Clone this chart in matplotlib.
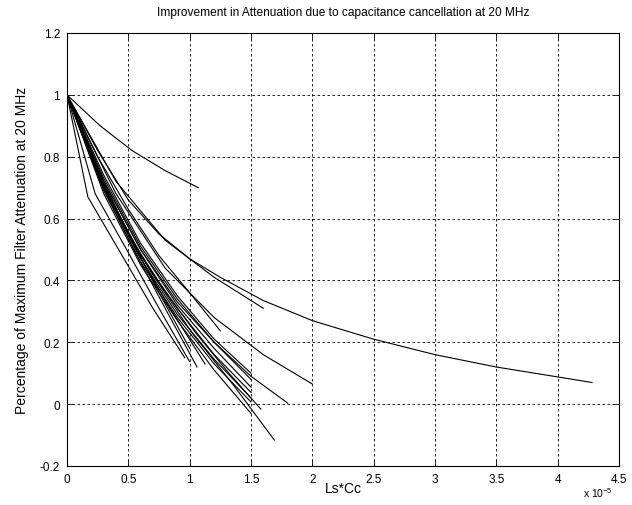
import matplotlib
matplotlib.use("Agg")
import matplotlib.pyplot as plt

plt.rcParams['font.family'] = ['Liberation Sans', 'DejaVu Sans']
plt.rcParams['mathtext.fontset'] = 'custom'
plt.rcParams['mathtext.rm'] = 'Liberation Sans'

# Ls*Cc values (x 1e-5) and normalised attenuation for each run
curves = [
    # top short curve
    ([0, 0.27, 0.53, 0.8, 1.07], [1, 0.9, 0.82, 0.755, 0.70]),
    # long curve
    ([0, 0.25, 0.5, 0.75, 1.0, 1.25, 1.6, 2.0, 2.5, 3.0, 3.5, 4.0, 4.28],
     [1, 0.82, 0.66, 0.55, 0.47, 0.41, 0.335, 0.27, 0.21, 0.16, 0.12, 0.088, 0.07]),
    ([0, 0.4, 0.8, 1.2, 1.6], [1, 0.72, 0.53, 0.41, 0.31]),
    ([0, 0.4, 0.8, 1.2, 1.6, 2.0], [1, 0.68, 0.44, 0.28, 0.16, 0.065]),
    ([0, 0.25, 0.5, 0.75, 1.0, 1.25], [1, 0.8, 0.63, 0.48, 0.36, 0.237]),
    ([0, 0.3, 0.6, 0.9, 1.2, 1.5, 1.8], [1, 0.72, 0.5, 0.33, 0.2, 0.09, 0.003]),
    ([0, 0.34, 0.68, 1.02, 1.36, 1.69], [1, 0.67, 0.43, 0.23, 0.06, -0.116]),
    ([0, 0.26, 0.53, 0.79, 1.05, 1.32, 1.58], [1, 0.74, 0.53, 0.37, 0.23, 0.1, -0.016]),
    # bundle ending at 1.5
    ([0, 0.3, 0.6, 0.9, 1.2, 1.5], [1, 0.74, 0.52, 0.35, 0.21, 0.10]),
    ([0, 0.3, 0.6, 0.9, 1.2, 1.5], [1, 0.73, 0.51, 0.34, 0.20, 0.08]),
    ([0, 0.3, 0.6, 0.9, 1.2, 1.5], [1, 0.72, 0.50, 0.32, 0.18, 0.055]),
    ([0, 0.3, 0.6, 0.9, 1.2, 1.5], [1, 0.71, 0.48, 0.31, 0.16, 0.038]),
    ([0, 0.3, 0.6, 0.9, 1.2, 1.5], [1, 0.70, 0.47, 0.29, 0.145, 0.02]),
    ([0, 0.3, 0.6, 0.9, 1.2, 1.5], [1, 0.69, 0.46, 0.28, 0.13, 0.007]),
    ([0, 0.3, 0.6, 0.9, 1.2, 1.5], [1, 0.68, 0.45, 0.27, 0.11, -0.03]),
    # short steep ones
    ([0, 0.25, 0.5, 0.75, 1.0], [1, 0.76, 0.55, 0.36, 0.18]),
    ([0, 0.23, 0.5, 0.75, 1.0], [1, 0.68, 0.49, 0.31, 0.137]),
    ([0, 0.26, 0.53, 0.8, 1.06], [1, 0.73, 0.51, 0.31, 0.12]),
    ([0, 0.28, 0.56, 0.84, 1.125], [1, 0.72, 0.50, 0.31, 0.13]),
    ([0, 0.17, 0.45, 0.7, 0.96], [1, 0.67, 0.48, 0.31, 0.15]),
]

xticks = [0, 0.5, 1, 1.5, 2, 2.5, 3, 3.5, 4, 4.5]
xticklabels = ['0', '0.5', '1', '1.5', '2', '2.5', '3', '3.5', '4', '4.5']
yticks = [-0.2, 0, 0.2, 0.4, 0.6, 0.8, 1, 1.2]
yticklabels = ['-0.2', '0', '0.2', '0.4', '0.6', '0.8', '1', '1.2']

fig = plt.figure(figsize=(6.32, 5.06), dpi=100)
ax = fig.add_axes([67 / 632, 1 - 467 / 506, 552 / 632, 433 / 506])

for xs, ys in curves:
    ax.plot(xs, ys, color='black', linewidth=0.8)

ax.set_xlim(0, 4.5)
ax.set_ylim(-0.2, 1.2)
ax.set_xticks(xticks)
ax.set_xticklabels(xticklabels)
ax.set_yticks(yticks)
ax.set_yticklabels(yticklabels)
ax.tick_params(direction='in', length=4, labelsize=8.5, top=True, right=True,
               width=0.6, pad=5)
ax.grid(True, color='black', linestyle=(0, (3, 3)), linewidth=0.6)
for s in ax.spines.values():
    s.set_linewidth(0.8)

ax.set_title('Improvement in Attenuation due to capacitance cancellation at 20 MHz',
             fontsize=8.6, pad=13)
ax.set_xlabel('Ls*Cc', fontsize=10, labelpad=-3)
ax.set_ylabel('Percentage of Maximum Filter Attenuation at 20 MHz', fontsize=10,
              labelpad=8)
fig.text(583 / 632, 1 - 493 / 506, r'x 10$^{-5}$', fontsize=7.5, va='center')

fig.savefig('out.png', dpi=100)
